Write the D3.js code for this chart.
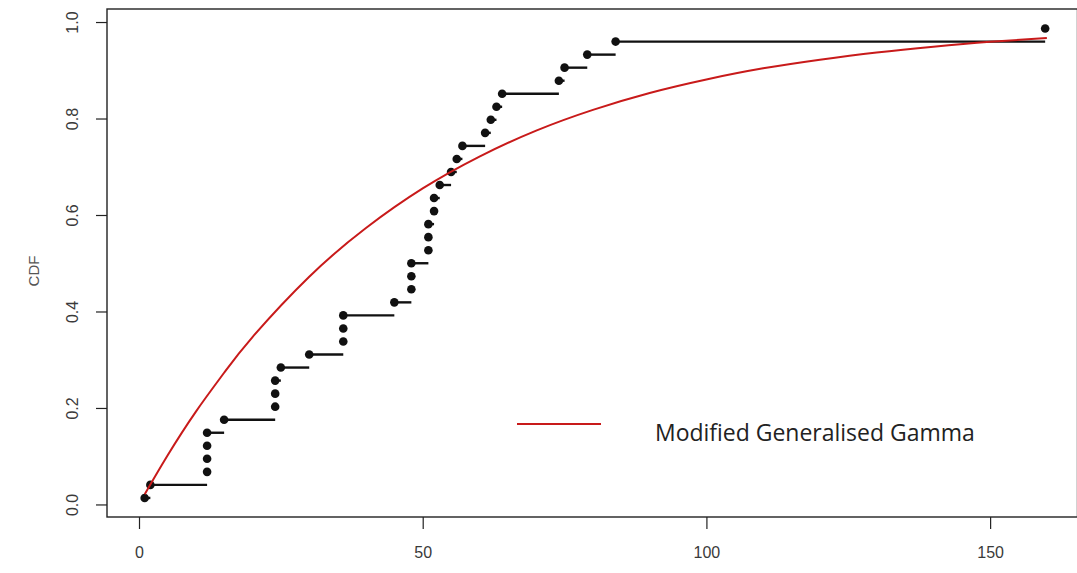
<!DOCTYPE html>
<html>
<head>
<meta charset="utf-8">
<script src="https://cdn.jsdelivr.net/npm/d3@7"></script>
<style>
  html, body { margin: 0; padding: 0; background: #fff; }
  svg { display: block; }
  .tick-label { font-family: "Liberation Sans", Arial, sans-serif; font-size: 16px; fill: #3a3a3a; }
</style>
</head>
<body>
<svg id="chart" width="1077" height="573"></svg>
<script>
// Observed times (sorted) for the empirical CDF
const obsTimes = [1, 2, 12, 12, 12, 12, 15, 24, 24, 24, 25, 30, 36, 36, 36, 45,
                  48, 48, 48, 51, 51, 51, 52, 52, 53, 55, 56, 57, 61, 62, 63, 64,
                  74, 75, 79, 84, 159.7];

// Fitted Modified Generalised Gamma CDF, sampled along the time axis
const fitTimes = [1, 5, 10, 15, 20, 30, 40, 50, 60, 70, 80, 90, 100, 110, 120, 130, 140, 150, 160];
const fitCdf   = [0.021, 0.101, 0.192, 0.273, 0.347, 0.472, 0.573, 0.655, 0.721, 0.775,
                  0.818, 0.853, 0.881, 0.904, 0.922, 0.937, 0.949, 0.959, 0.967];

const xTicks = [0, 50, 100, 150];
const yTicks = [0.0, 0.2, 0.4, 0.6, 0.8, 1.0];
const yTitle = "CDF";
const legendLabel = "Modified Generalised Gamma";

const n = obsTimes.length;
// plotting positions (i - 0.5) / n
const ecdf = obsTimes.map((t, i) => ({ t, p: (i + 0.5) / n }));

const svg = d3.select("#chart");
const box = { left: 107, right: 1077.5, top: 9, bottom: 517 };

const x = d3.scaleLinear().domain([-5.64, 165.4]).range([box.left, box.right]);
const y = d3.scaleLinear().domain([-0.026, 1.027]).range([box.bottom, box.top]);

// Frame
svg.append("rect")
  .attr("x", box.left).attr("y", box.top)
  .attr("width", box.right - box.left).attr("height", box.bottom - box.top)
  .attr("fill", "none").attr("stroke", "#222").attr("stroke-width", 1.4);

// Axes
const xAxis = svg.append("g")
  .attr("transform", `translate(0,${box.bottom})`)
  .call(d3.axisBottom(x).tickValues(xTicks).tickSize(12).tickPadding(18).tickFormat(d3.format("d")));
xAxis.select(".domain").remove();
xAxis.selectAll("line").attr("stroke", "#222").attr("stroke-width", 1.2);
xAxis.selectAll("text").attr("class", "tick-label").attr("font-size", null).attr("font-family", null).attr("fill", null);

const yAxis = svg.append("g")
  .attr("transform", `translate(${box.left},0)`)
  .call(d3.axisLeft(y).tickValues(yTicks).tickSize(11).tickFormat(d3.format(".1f")));
yAxis.select(".domain").remove();
yAxis.selectAll("line").attr("stroke", "#222").attr("stroke-width", 1.2);
yAxis.selectAll("text")
  .attr("class", "tick-label").attr("font-size", null).attr("font-family", null).attr("fill", null)
  .attr("x", null).attr("dy", null)
  .attr("text-anchor", "middle")
  .attr("dominant-baseline", "central")
  .attr("transform", `translate(${72 - box.left},0) rotate(-90)`);

// Axis title
svg.append("text")
  .attr("transform", `translate(33,${(box.top + box.bottom) / 2 + 8}) rotate(-90)`)
  .attr("text-anchor", "middle")
  .attr("dominant-baseline", "central")
  .attr("font-family", "Liberation Sans, Arial, sans-serif")
  .attr("font-size", 15)
  .attr("fill", "#555")
  .text(yTitle);

// Empirical CDF: horizontal step to the next observation
const steps = ecdf.slice(0, -1).map((d, i) => ({ t0: d.t, t1: ecdf[i + 1].t, p: d.p }))
  .filter(s => s.t1 > s.t0);
svg.append("g").selectAll("line").data(steps).join("line")
  .attr("x1", d => x(d.t0)).attr("x2", d => x(d.t1))
  .attr("y1", d => y(d.p)).attr("y2", d => y(d.p))
  .attr("stroke", "#111").attr("stroke-width", 2.4);

svg.append("g").selectAll("circle").data(ecdf).join("circle")
  .attr("cx", d => x(d.t)).attr("cy", d => y(d.p)).attr("r", 4.3)
  .attr("fill", "#111");

// Fitted CDF curve
const line = d3.line().x(d => x(d[0])).y(d => y(d[1])).curve(d3.curveNatural);
svg.append("path")
  .datum(fitTimes.map((t, i) => [t, fitCdf[i]]))
  .attr("d", line)
  .attr("fill", "none").attr("stroke", "#c81a1a").attr("stroke-width", 2);

// Legend
svg.append("line")
  .attr("x1", 517).attr("x2", 601).attr("y1", 424).attr("y2", 424)
  .attr("stroke", "#c81a1a").attr("stroke-width", 2.2);
const legText = svg.append("text")
  .attr("x", 655).attr("y", 441)
  .attr("font-family", "Open Sans, Noto Sans, sans-serif")
  .attr("font-size", 20)
  .attr("fill", "#222")
  .text(legendLabel);
// size the label to its intended width
const w = legText.node().getComputedTextLength();
legText.attr("font-size", 20 * 320 / w);
</script>
</body>
</html>
